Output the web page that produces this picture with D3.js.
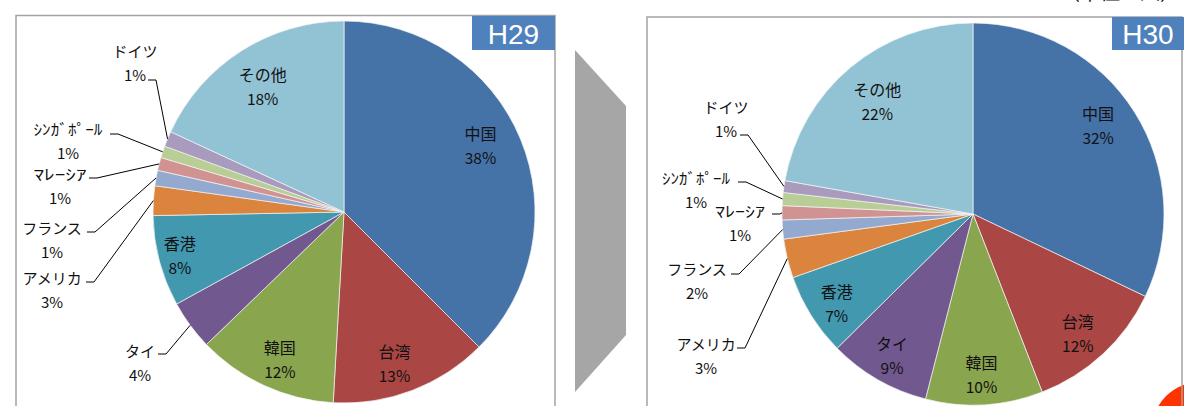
<!DOCTYPE html>
<html>
<head>
<meta charset="utf-8">
<script src="https://cdn.jsdelivr.net/npm/d3@7"></script>
<style>
	body{margin:0;background:#fff;}
	svg{display:block;}
	text{font-family:"Noto Sans CJK JP","Noto Sans",sans-serif;fill:#111;}
</style>
</head>
<body>
<div id="plot"></div>
<script>
//Data
var categories = ['中国','台湾','韓国','タイ','香港','アメリカ','フランス','ﾏﾚｰｼｱ','ｼﾝｶﾞﾎﾟｰﾙ','ドイツ','その他'];
var sharesH29 = [37.5,13.4,11.9,4.2,7.7,2.5,1.3,1.1,1.0,1.3,18.1];
var sharesH30 = [32.1,12.0,9.9,8.6,7.0,3.3,1.6,1.2,1.1,1.0,22.2];
var years = ['H29','H30'];
var colors = ['#4572a7','#aa4643','#89a54e','#71588f','#4198af','#db843d','#93a9cf','#d19392','#b9cd96','#a99bbd','#92c3d4'];

var W = 1184, H = 406;

//layout of the two panels
//inside labels: small shift from the slice centroid; outside labels: name centre (tx,ty),
//leader start (ax,ay), both relative to the pie centre, and an optional text length
var panels = [
	{year:years[0], shares:sharesH29, cx:344, cy:212, frame:{x:16,y:15.5,w:539}, tag:{x:472,y:16,w:83,h:34},
		nudge:{0:[-10,-6],1:[-6,3],2:[2,3],4:[-11,2],10:[4,8]},
		outside:{
			3:{tx:-204,ty:138,ax:-186,ay:142},
			5:{tx:-292,ty:65,ax:-258,ay:70},
			6:{tx:-292,ty:15,ax:-257,ay:20},
			7:{tx:-284,ty:-39,ax:-255,ay:-34,len:53},
			8:{tx:-276,ty:-84,ax:-234,ay:-78,len:69},
			9:{tx:-209,ty:-162,ax:-196,ay:-132}
		}},
	{year:years[1], shares:sharesH30, cx:973, cy:214, frame:{x:647,y:17,w:535}, tag:{x:1112,y:17,w:72,h:33},
		nudge:{0:[-9,-4],1:[-3,3],2:[-1,2],3:[-2,4],4:[-2,5],10:[6,8]},
		outside:{
			5:{tx:-267,ty:129,ax:-236,ay:134},
			6:{tx:-276,ty:54,ax:-242,ay:60},
			7:{tx:-233,ty:-4,ax:-201,ay:0,len:50},
			8:{tx:-277,ty:-37,ax:-235,ay:-32,len:68},
			9:{tx:-247,ty:-108,ax:-233,ay:-79}
		}}
];
var r = 191;

var svg = d3.select('#plot').append('svg')
	.attr('width',W).attr('height',H);

//unit note, cut off at the top edge as in the source
svg.append('text')
	.attr('x',1180).attr('y',0)
	.attr('text-anchor','end')
	.style('font-size','20px')
	.text('（単位：人）');

//grey arrow between the panels
svg.append('polygon')
	.attr('points','575,50 626,106 626,335 575,392')
	.style('fill','#a6a6a6');

//red mark bottom right
svg.append('circle')
	.attr('cx',1200).attr('cy',430).attr('r',48)
	.style('fill','#ff3300');

var pie = d3.pie().sort(null).value(function(d){return d});
var arc = d3.arc().innerRadius(0).outerRadius(r);
var labelArc = d3.arc().innerRadius(r*0.83).outerRadius(r*0.83);

function addText(g,x,y,size,str,len){
	var t = g.append('text')
		.attr('x',x).attr('y',y)
		.attr('text-anchor','middle').attr('dominant-baseline','central')
		.style('font-size',size)
		.text(str);
	if(len) t.attr('textLength',len).attr('lengthAdjust','spacingAndGlyphs');
	return t;
}

panels.forEach(function(p){
	//frame
	svg.append('rect')
		.attr('x',p.frame.x).attr('y',p.frame.y)
		.attr('width',p.frame.w).attr('height',H)
		.style('fill','none').style('stroke','#a3a3a3').style('stroke-width',1.5);

	var g = svg.append('g')
		.attr('transform','translate('+p.cx+','+p.cy+')');

	var arcs = pie(p.shares);

	g.selectAll('path.slice').data(arcs).enter()
		.append('path').attr('class','slice')
		.attr('d',arc)
		.style('fill',function(d,i){return colors[i]})
		.style('stroke','#f4f4f4').style('stroke-width',0.7);

	arcs.forEach(function(d,i){
		var pct = Math.round(d.data)+'%';
		var o = p.outside[i];
		if(o){
			var mid = (d.startAngle+d.endAngle)/2,
				ex = r*Math.sin(mid),
				ey = -r*Math.cos(mid);
			g.append('path')
				.attr('d','M'+o.ax+','+o.ay+'H'+(o.ax+8)+'L'+ex+','+ey)
				.style('fill','none').style('stroke','#000').style('stroke-width',1);
			addText(g,o.tx,o.ty,'15px',categories[i],o.len);
			addText(g,o.tx,o.ty+24,'15px',pct);
		}else{
			var c = labelArc.centroid(d),
				n = p.nudge[i] || [0,0];
			addText(g,c[0]+n[0],c[1]+n[1]-12,'16px',categories[i]);
			addText(g,c[0]+n[0],c[1]+n[1]+12,'15.5px',pct);
		}
	});

	//year tag
	svg.append('rect')
		.attr('x',p.tag.x).attr('y',p.tag.y)
		.attr('width',p.tag.w).attr('height',p.tag.h)
		.style('fill','#4f81bd');
	svg.append('text')
		.attr('x',p.tag.x+p.tag.w/2).attr('y',p.tag.y+p.tag.h/2+1)
		.attr('text-anchor','middle').attr('dominant-baseline','central')
		.style('font-family','"Liberation Sans",Arial,sans-serif')
		.style('font-size','28px').style('fill','#fff')
		.text(p.year);
});
</script>
</body>
</html>
